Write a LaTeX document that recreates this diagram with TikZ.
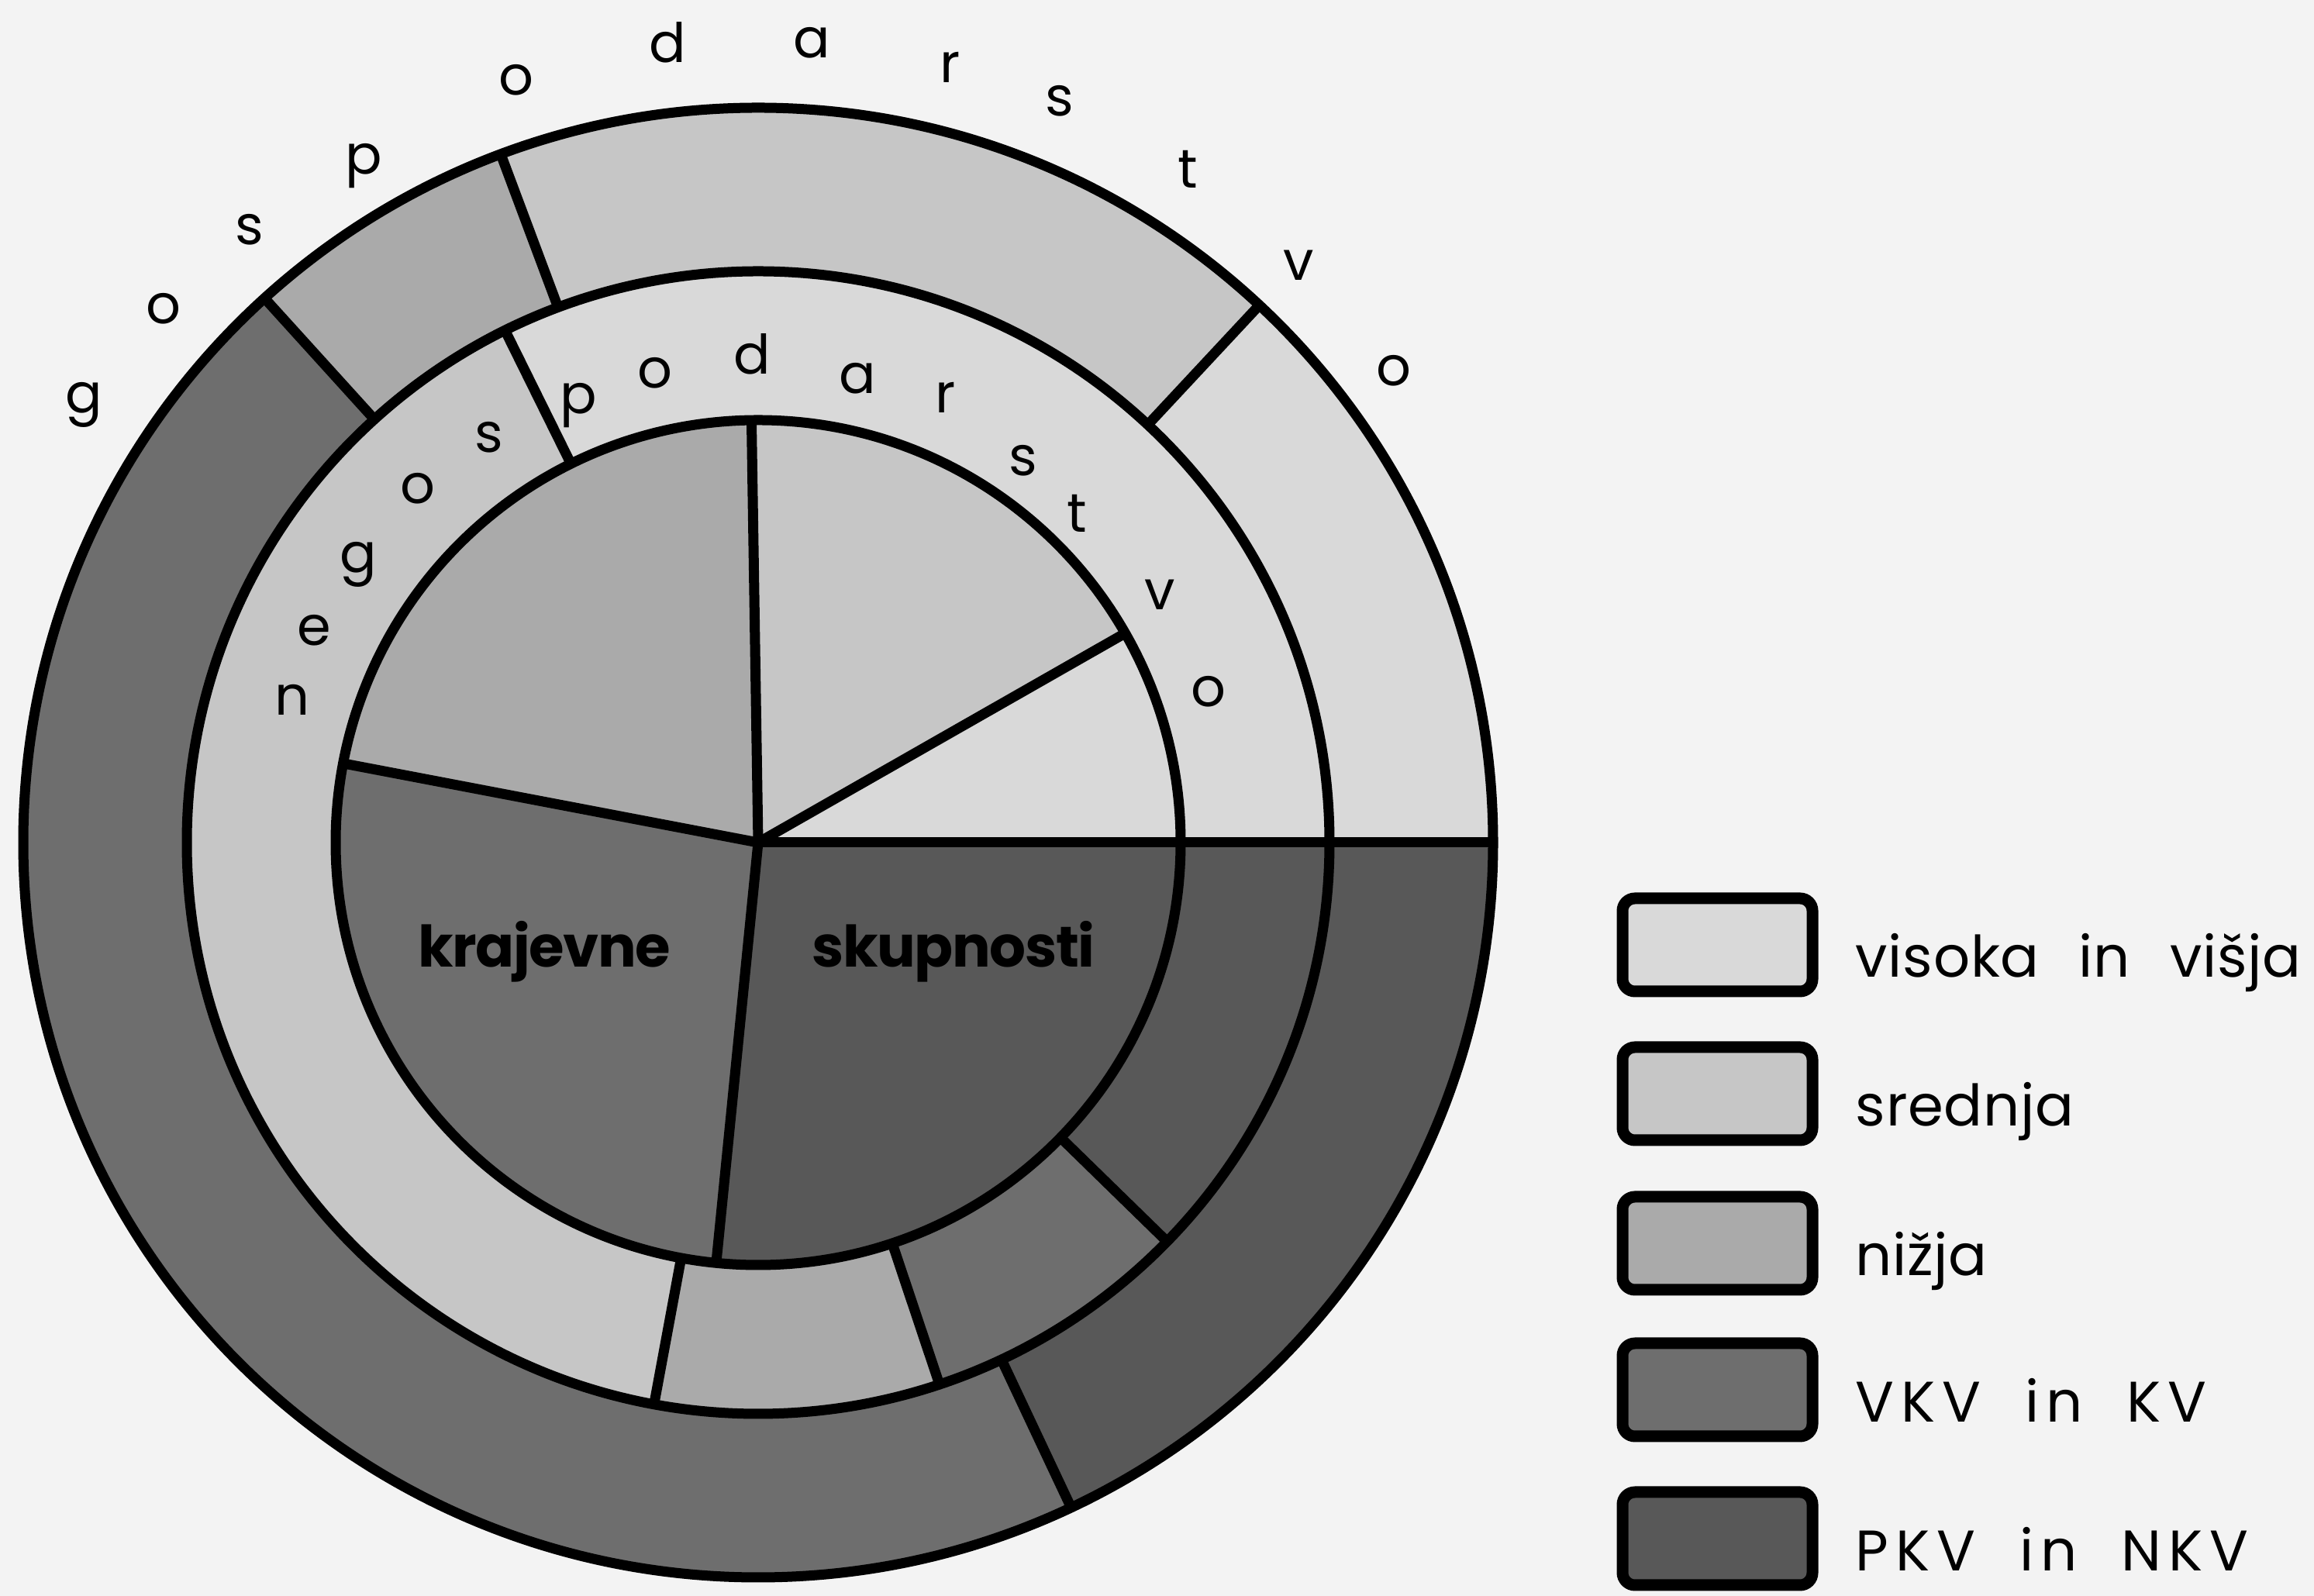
\documentclass[tikz,border=0pt]{standalone}
\usepackage{fontspec}
\setmainfont{Poppins}
\newfontfamily\legfont[LetterSpace=1,WordSpace=2.5]{Poppins}
\newfontfamily\legcapfont[LetterSpace=12,WordSpace=2.0]{Poppins}
\newfontfamily\ringfont{Poppins}
\newfontfamily\pieFont[LetterSpace=-2]{Poppins}
\definecolor{bgc}{HTML}{F3F3F3}
\definecolor{cVis}{HTML}{D9D9D9}
\definecolor{cSre}{HTML}{C6C6C6}
\definecolor{cNiz}{HTML}{AAAAAA}
\definecolor{cVkv}{HTML}{6E6E6E}
\definecolor{cPkv}{HTML}{585858}
\newcommand\ringsec[5]{\fill[#5] (#3:#2) arc[start angle=#3,end angle=#4,radius=#2] -- (#4:#1) arc[start angle=#4,end angle=#3,radius=#1] -- cycle;}
\newcommand\piesec[4]{\fill[#4] (0,0) -- (#2:#1) arc[start angle=#2,end angle=#3,radius=#1] -- cycle;}
\tikzset{
  rline/.style={line width=0.13cm, draw=black},
  outlet/.style={anchor=mid, inner sep=0pt, font=\ringfont\fontsize{20}{24}\selectfont},
  inlet/.style={anchor=mid, inner sep=0pt, font=\ringfont\fontsize{20}{24}\selectfont},
  pietext/.style={anchor=base, inner sep=0pt, font=\pieFont\bfseries\fontsize{21}{25}\selectfont},
  legbox/.style={draw=black, line width=0.15cm, rounded corners=0.16cm, minimum width=2.45cm, minimum height=1.2cm, inner sep=0pt},
  legtext/.style={anchor=base west, inner sep=0pt, font=\legfont\fontsize{21}{25}\selectfont},
  legcaps/.style={anchor=base west, inner sep=0pt, font=\legcapfont\fontsize{21}{25}\selectfont}
}
\begin{document}
\begin{tikzpicture}
\fill[bgc] (0,0) rectangle (29.85,20.59);
\useasboundingbox (0,0) rectangle (29.85,20.59);
\begin{scope}[shift={(9.78,9.72)}]
  \coordinate (O) at (0,0);
  % outer ring: gospodarstvo
  \ringsec{7.37}{9.48}{0}{47}{cVis}
  \ringsec{7.37}{9.48}{47}{110.5}{cSre}
  \ringsec{7.37}{9.48}{110.5}{132.2}{cNiz}
  \ringsec{7.37}{9.48}{132.2}{295.2}{cVkv}
  \ringsec{7.37}{9.48}{295.2}{360}{cPkv}
  % middle ring: negospodarstvo
  \ringsec{5.45}{7.37}{0}{116.3}{cVis}
  \ringsec{5.45}{7.37}{116.3}{259.5}{cSre}
  \ringsec{5.45}{7.37}{259.5}{288.5}{cNiz}
  \ringsec{5.45}{7.37}{288.5}{315.7}{cVkv}
  \ringsec{5.45}{7.37}{315.7}{360}{cPkv}
  % inner pie: krajevne skupnosti
  \piesec{5.45}{0}{29.7}{cVis}
  \piesec{5.45}{29.7}{90.9}{cSre}
  \piesec{5.45}{90.9}{169.2}{cNiz}
  \piesec{5.45}{169.2}{264.3}{cVkv}
  \piesec{5.45}{264.3}{360}{cPkv}
  % circles
  \draw[rline] (O) circle[radius=9.48];
  \draw[rline] (O) circle[radius=7.37];
  \draw[rline] (O) circle[radius=5.45];
  % radial lines
  \draw[rline] (O) -- (0:9.48);
  \foreach \a in {47,110.5,132.2,295.2} \draw[rline] (\a:7.37) -- (\a:9.48);
  \foreach \a in {116.3,259.5,288.5,315.7} \draw[rline] (\a:5.45) -- (\a:7.37);
  \foreach \a in {29.7,90.9,169.2,264.3} \draw[rline] (O) -- (\a:5.45);
  % outer letters
  \node[outlet] (og1) at (-8.70,5.64) {g};
  \node[outlet] (og2) at (-7.67,6.79) {o};
  \node[outlet] (og3) at (-6.56,7.81) {s};
  \node[outlet] (og4) at (-5.09,8.72) {p};
  \node[outlet] (og5) at (-3.12,9.74) {o};
  \node[outlet] (og6) at (-1.17,10.16) {d};
  \node[outlet] (og7) at (0.69,10.22) {a};
  \node[outlet] (og8) at (2.48,9.90) {r};
  \node[outlet] (og9) at (3.89,9.47) {s};
  \node[outlet] (og10) at (5.54,8.54) {t};
  \node[outlet] (og11) at (6.97,7.35) {v};
  \node[outlet] (og12) at (8.20,5.99) {o};
  % inner letters
  \node[inlet] (ig1) at (-6.01,1.74) {n};
  \node[inlet] (ig2) at (-5.73,2.64) {e};
  \node[inlet] (ig3) at (-5.16,3.58) {g};
  \node[inlet] (ig4) at (-4.39,4.47) {o};
  \node[inlet] (ig5) at (-3.47,5.13) {s};
  \node[inlet] (ig6) at (-2.32,5.63) {p};
  \node[inlet] (ig7) at (-1.33,5.96) {o};
  \node[inlet] (ig8) at (-0.08,6.14) {d};
  \node[inlet] (ig9) at (1.28,5.89) {a};
  \node[inlet] (ig10) at (2.42,5.64) {r};
  \node[inlet] (ig11) at (3.42,4.83) {s};
  \node[inlet] (ig12) at (4.11,4.10) {t};
  \node[inlet] (ig13) at (5.18,3.10) {v};
  \node[inlet] (ig14) at (5.81,1.85) {o};
  % pie text
  \node[pietext] (kr) at (-2.76,-1.61) {krajevne};
  \node[pietext] (sk) at (2.52,-1.61) {skupnosti};
\end{scope}
% legend
\node[legbox, fill=cVis] (b1) at (22.155,8.40) {};
\node[legbox, fill=cSre] (b2) at (22.155,6.48) {};
\node[legbox, fill=cNiz] (b3) at (22.155,4.55) {};
\node[legbox, fill=cVkv] (b4) at (22.155,2.66) {};
\node[legbox, fill=cPkv] (b5) at (22.155,0.74) {};
\node[legtext] (t1) at (23.93,7.98) {visoka in višja};
\node[legtext] (t2) at (23.93,6.06) {srednja};
\node[legtext] (t3) at (23.93,4.13) {nižja};
\node[legcaps] (t4) at (23.93,2.24) {VKV in KV};
\node[legcaps] (t5) at (23.93,0.32) {PKV in NKV};
\end{tikzpicture}
\end{document}
